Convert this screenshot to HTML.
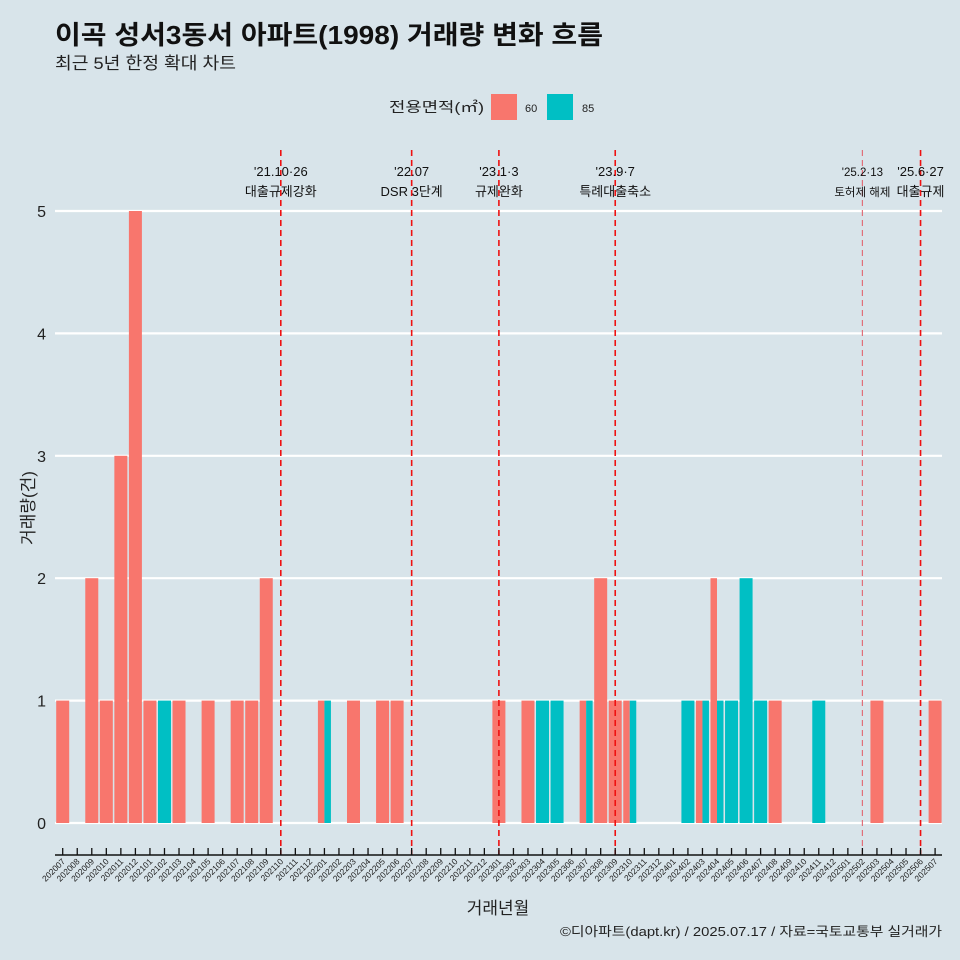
<!DOCTYPE html>
<html><head><meta charset="utf-8">
<style>
body{margin:0;background:#d8e4ea;}
svg{display:block;font-family:"Liberation Sans","Noto Sans CJK KR",sans-serif;}
</style></head>
<body>
<svg id="chart" width="960" height="960" viewBox="0 0 960 960">
<rect x="0" y="0" width="960" height="960" fill="#d8e4ea"/>
<text x="55" y="44" font-size="26" font-weight="bold" fill="#111" textLength="548" lengthAdjust="spacingAndGlyphs">이곡 성서3동서 아파트(1998) 거래량 변화 흐름</text>
<text x="55" y="69" font-size="17" fill="#222" textLength="181" lengthAdjust="spacingAndGlyphs">최근 5년 한정 확대 차트</text>
<g>
<text x="484" y="112" font-size="14" text-anchor="end" fill="#222" textLength="95" lengthAdjust="spacingAndGlyphs">전용면적(㎡)</text>
<rect x="491" y="94" width="26" height="26" fill="#f8766d"/>
<text x="525" y="112" font-size="11" fill="#222">60</text>
<rect x="547" y="94" width="26" height="26" fill="#00bfc4"/>
<text x="582" y="112" font-size="11" fill="#222">85</text>
</g>
<text transform="translate(34,508) rotate(-90)" font-size="17" text-anchor="middle" fill="#222">거래량(건)</text>
<text x="498" y="914" font-size="17" text-anchor="middle" fill="#222">거래년월</text>
<text x="942" y="936" font-size="13" text-anchor="end" fill="#222" textLength="382" lengthAdjust="spacingAndGlyphs">©디아파트(dapt.kr) / 2025.07.17 / 자료=국토교통부 실거래가</text>
<g id="grid"></g><g id="bars"></g><g id="events"></g><g id="axes"></g>
</svg>
<script>
const months = [];
for (let y = 2020; y <= 2025; y++) for (let m = 1; m <= 12; m++) {
  const k = y * 100 + m; if (k >= 202007 && k <= 202507) months.push(String(k));
}
const series60 = {"202007":1,"202009":2,"202010":1,"202011":3,"202012":5,"202101":1,"202103":1,"202105":1,"202107":1,"202108":1,"202109":2,"202201":1,"202203":1,"202205":1,"202206":1,"202301":1,"202303":1,"202307":1,"202308":2,"202309":1,"202310":1,"202403":1,"202404":2,"202408":1,"202503":1,"202507":1};
const series85 = {"202102":1,"202201":1,"202304":1,"202305":1,"202307":1,"202310":1,"202402":1,"202403":1,"202404":1,"202405":1,"202406":2,"202407":1,"202411":1};
const yTicks = [0,1,2,3,4,5];
const eventMonths = ["202110","202207","202301","202309","202502","202506"];
const eventLine1 = ["'21.10·26","'22.07","'23.1·3","'23.9·7","'25.2·13","'25.6·27"];
const eventLine2 = ["대출규제강화","DSR 3단계","규제완화","특례대출축소","토허제 해제","대출규제"];

const NS = "http://www.w3.org/2000/svg";
const x0 = 62.7, step = 14.54, y0 = 823, unit = 122.4;
const xs = i => x0 + i * step;
const ys = v => y0 - v * unit;
function mk(tag, attrs, parent) {
  const e = document.createElementNS(NS, tag);
  for (const k in attrs) e.setAttribute(k, attrs[k]);
  document.getElementById(parent).appendChild(e); return e;
}
yTicks.forEach(t => {
  const l = mk("line", {x1:55, x2:942, y1:ys(t), y2:ys(t), stroke:"#fff", "stroke-width":2.2}, "grid");
  
  
  const tx = mk("text", {x:46, y:ys(t)+6, "font-size":16, "text-anchor":"end", fill:"#222"}, "grid");
  tx.textContent = t;
  
  
});
const bw = 13;
months.forEach((m, i) => {
  const a = series60[m] || 0, b = series85[m] || 0;
  const cx = xs(i);
  const parts = [];
  if (a && b) { parts.push([a, "#f8766d", cx - bw/2, bw/2, "bar-60"]); parts.push([b, "#00bfc4", cx, bw/2, "bar-85"]); }
  else if (a) parts.push([a, "#f8766d", cx - bw/2, bw, "bar-60"]);
  else if (b) parts.push([b, "#00bfc4", cx - bw/2, bw, "bar-85"]);
  parts.forEach(p => {
    const r = mk("rect", {x:p[2], y:ys(p[0]), width:p[3], height:p[0]*unit, fill:p[1]}, "bars");
    
    
  });
});
eventMonths.forEach((m, j) => {
  const i = months.indexOf(m), x = xs(i);
  const faint = m === "202502";
  const l = mk("line", {x1:x, x2:x, y1:150, y2:855, stroke:faint?"#e0707a":"#ee1111", "stroke-width":faint?1.2:1.6, "stroke-dasharray":"6,4"}, "events");
  
  
  const fs = faint ? 11.5 : 13;
  const t1 = mk("text", {x:x, y:176, "font-size":fs, "text-anchor":"middle", fill:"#111"}, "events");
  t1.textContent = eventLine1[j];
  
  
  const t2 = mk("text", {x:x, y:196, "font-size":fs, "text-anchor":"middle", fill:"#111"}, "events");
  t2.textContent = eventLine2[j];
  
  
});
const ax = mk("line", {x1:55, x2:942, y1:855, y2:855, stroke:"#111", "stroke-width":1.6}, "axes");


months.forEach((m, i) => {
  const x = xs(i);
  const tk = mk("line", {x1:x, x2:x, y1:848, y2:855, stroke:"#111", "stroke-width":1.3}, "axes");
  
  
  const t = mk("text", {x:x+3, y:862, "font-size":8.5, "text-anchor":"end", fill:"#222", transform:`rotate(-45 ${x+3} 862)`}, "axes");
  t.textContent = m;
  
  
});
</script>
</body></html>
